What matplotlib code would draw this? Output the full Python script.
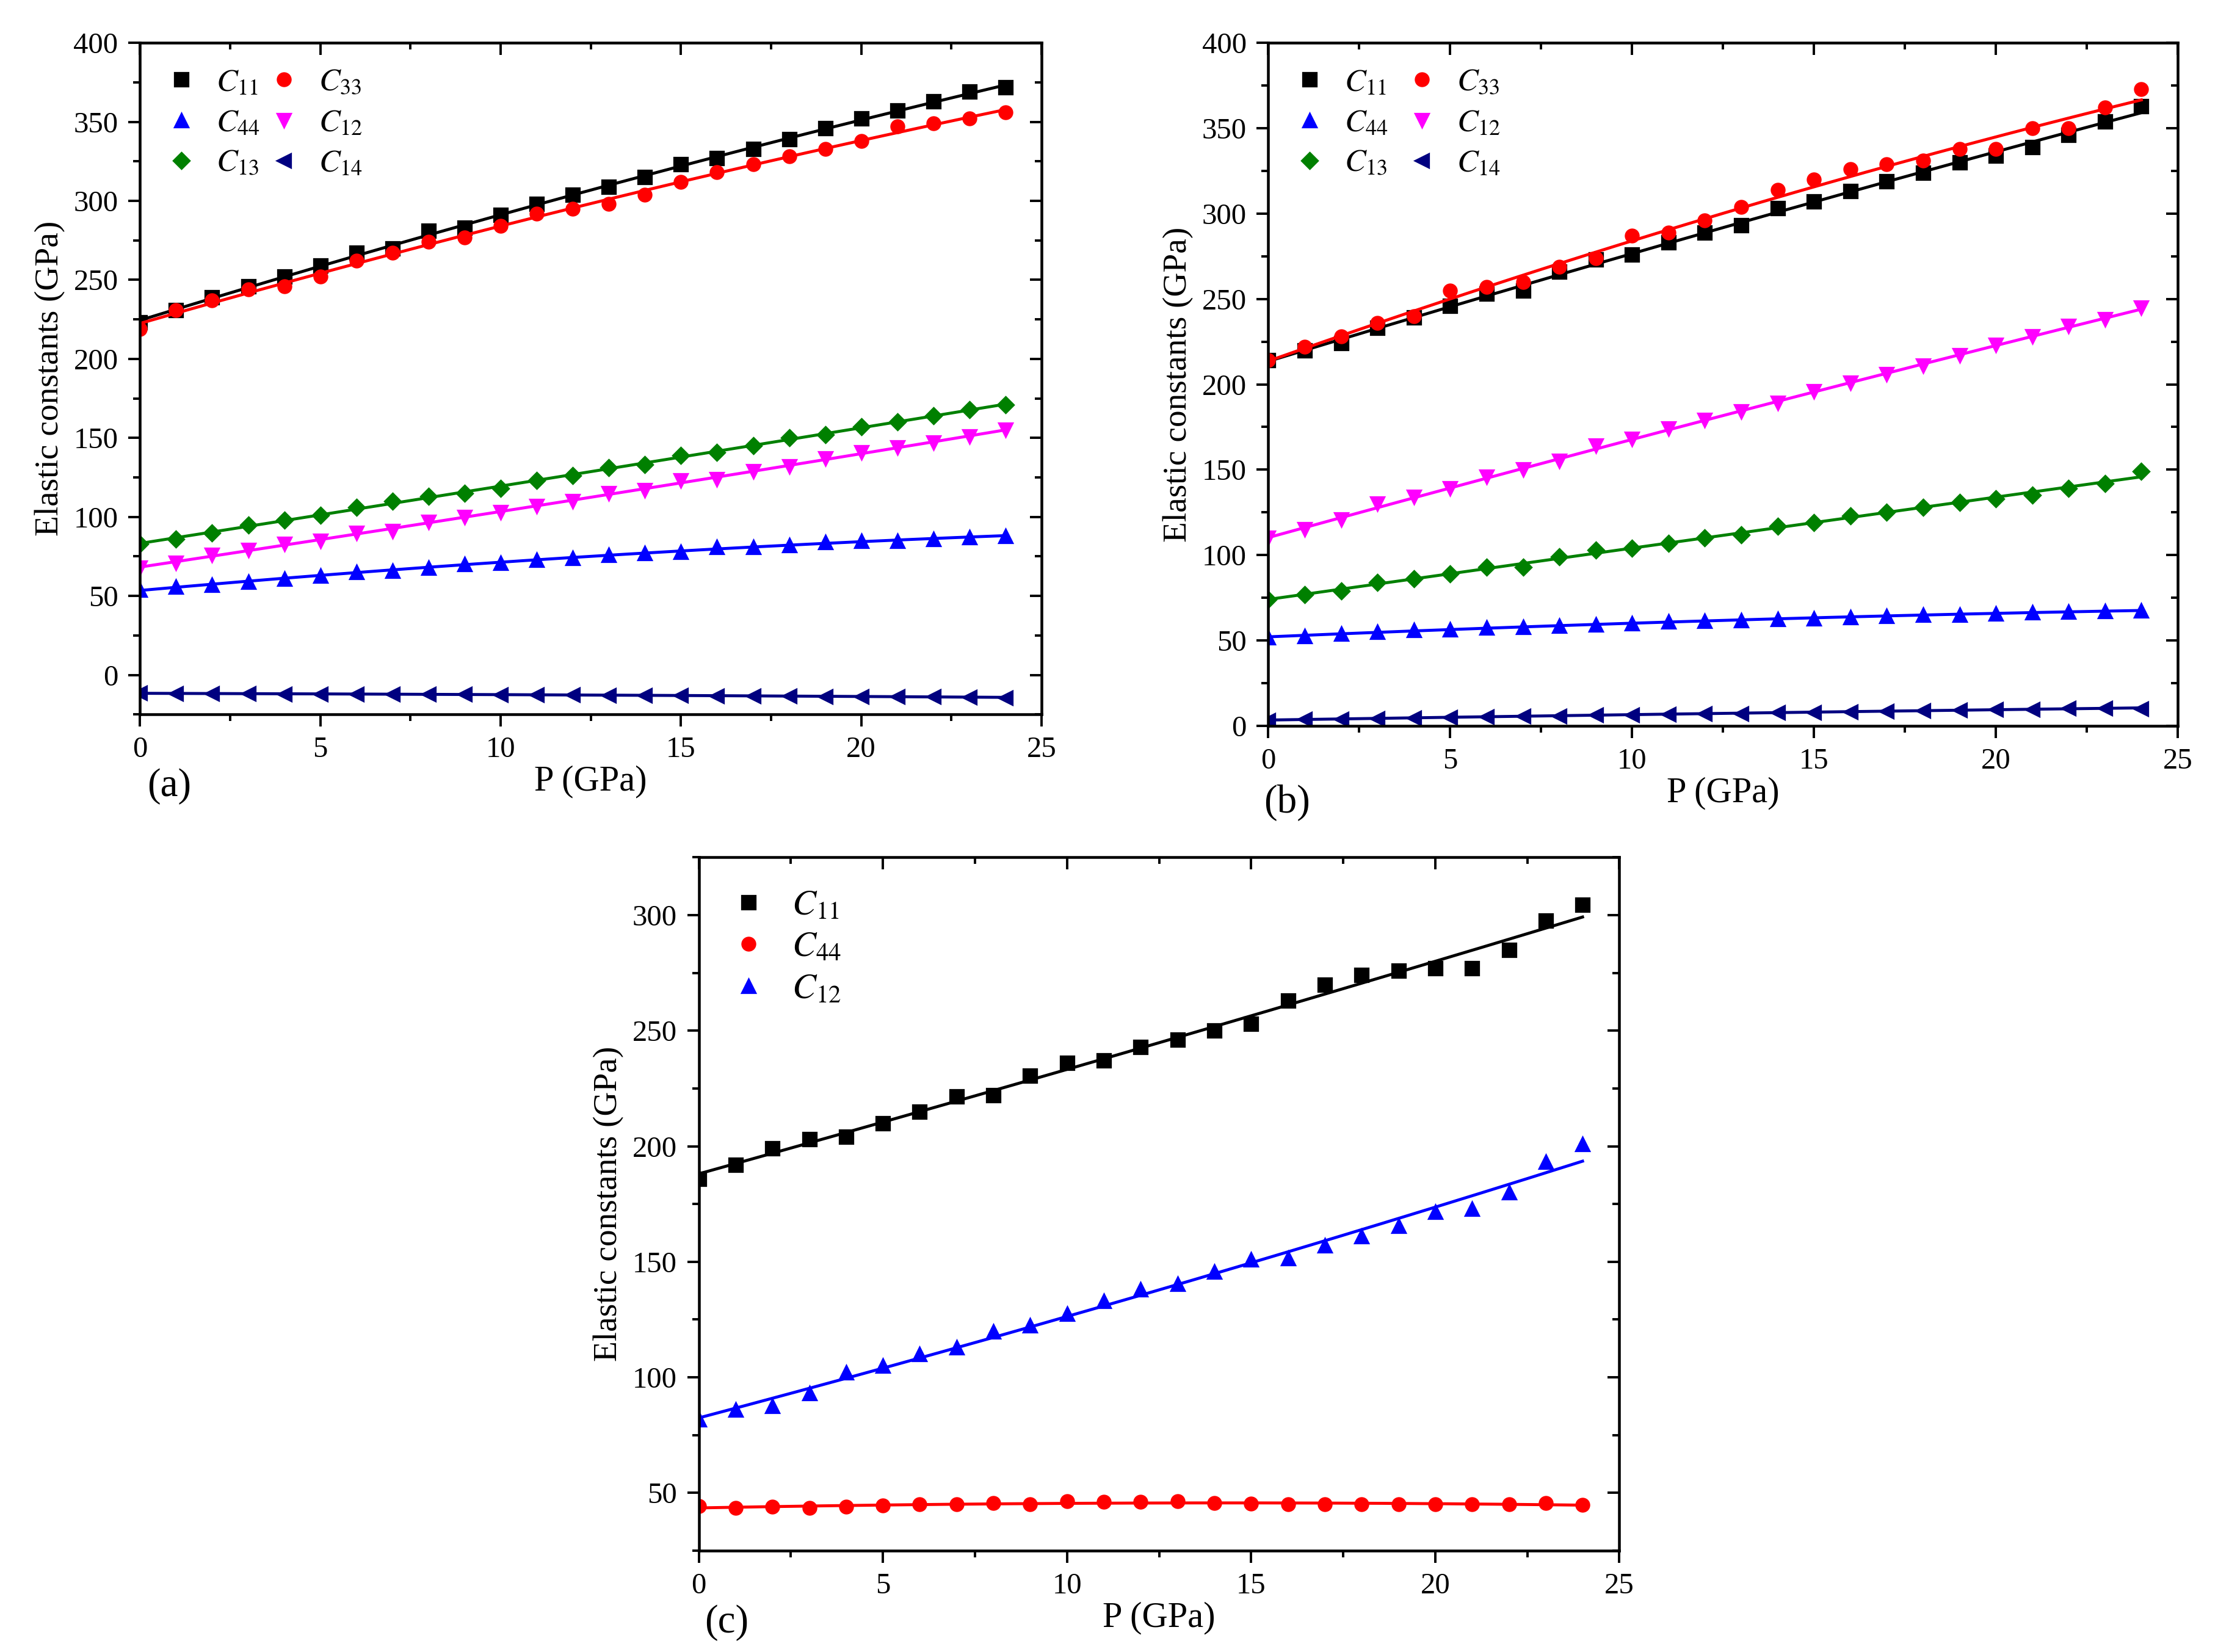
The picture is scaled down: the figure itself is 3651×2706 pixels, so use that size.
import numpy as np
import matplotlib
matplotlib.use("Agg")
import matplotlib.pyplot as plt
from matplotlib.ticker import MultipleLocator

plt.rcParams['font.family'] = ['Liberation Serif', 'DejaVu Serif']
plt.rcParams['mathtext.fontset'] = 'stix'

P = np.arange(0, 25)

# panel (a)
a_C11 = [223, 231, 239, 246, 252, 259, 267, 270, 281, 283, 291, 298, 304, 309, 315, 323,
         327, 333, 339, 346, 352, 357, 363, 369, 372]
a_C33 = [219, 231, 237, 244, 246, 252, 262, 267, 274, 277, 284, 292, 295, 298, 304, 312,
         318, 323, 328, 333, 338, 347, 349, 352, 356]
a_C44 = [54, 56, 57, 59, 61, 63, 65, 66, 68, 70, 71, 73, 74, 76, 77, 78, 81, 81, 82, 84,
         85, 85, 86, 87, 88]
a_C12 = [68, 71, 76, 79, 83, 85, 90, 91, 97, 100, 103, 107, 110, 115, 117, 123, 124, 129,
         132, 137, 141, 144, 147, 151, 155]
a_C13 = [83, 86, 90, 95, 98, 101, 106, 110, 113, 115, 118, 123, 126, 131, 133, 139, 141,
         145, 150, 152, 157, 160, 164, 168, 171]
a_C14 = [-11.5, -11.6, -11.7, -11.9, -12.0, -12.0, -12.1, -12.2, -12.3, -12.2, -12.4,
         -12.6, -12.6, -12.8, -12.8, -13.0, -13.1, -13.2, -13.3, -13.5, -13.6, -13.7,
         -13.8, -14.0, -14.3]

# panel (b)
b_C11 = [214, 220, 224, 233, 239, 246, 253, 255, 266, 273, 276, 283, 289, 293, 303, 307,
         313, 319, 324, 330, 334, 339, 346, 354, 363]
b_C33 = [214, 222, 228, 236, 240, 255, 257, 260, 269, 274, 287, 289, 296, 304, 314, 320,
         326, 329, 331, 338, 338, 350, 350, 362, 373]
b_C44 = [52, 52.5, 54, 55, 56, 56.5, 57.5, 58, 58.7, 59.3, 60, 61, 61.5, 62, 62.7, 63,
         63.6, 64.5, 65, 65.2, 65.8, 66.4, 67, 67.3, 67.6]
b_C12 = [110, 115, 121, 130, 134, 139, 146, 150, 155, 164, 168, 174, 179, 184, 189, 196,
         201, 206, 211, 217, 223, 228, 234, 238, 245]
b_C13 = [74, 77, 79, 84, 86, 89, 93, 93, 99, 103, 104, 107, 110, 112, 117, 119, 123, 125,
         128, 131, 133, 135, 139, 142, 149]
b_C14 = [3.4, 3.9, 4.0, 4.4, 4.8, 5.0, 5.4, 5.6, 5.9, 6.4, 6.5, 6.9, 7.2, 7.3, 7.8, 8.0,
         8.4, 8.6, 9.0, 9.3, 9.5, 9.8, 10.2, 10.5, 10.1]

# panel (c)
c_C11 = [186, 192, 199, 203, 204, 210, 215, 221.5, 222, 230.5, 236, 237, 243, 246, 250,
         253, 263, 270, 274, 276, 277, 277, 285, 297.7, 304.4]
c_C44 = [44.2, 43.5, 44, 43.5, 44, 44.4, 45.1, 45, 45.6, 45, 46.3, 46, 46, 46.3, 45.6,
         45.4, 45.1, 45.1, 45, 45, 45.1, 45, 45.1, 45.6, 44.7]
c_C12 = [81.7, 86, 87.5, 93, 102, 105, 110, 113, 119.7, 122.5, 127.5, 133, 138, 140.5,
         145.6, 151, 151.4, 157, 161, 165.5, 171.5, 173, 180, 193.3, 201]


def lab(n):
    return r'$\mathit{C}_{\mathit{%s}}$' % n


def style_axes(ax, ylim, ymajor, yminor):
    ax.set_xlim(0, 25)
    ax.set_ylim(*ylim)
    ax.xaxis.set_major_locator(MultipleLocator(5))
    ax.xaxis.set_minor_locator(MultipleLocator(2.5))
    ax.yaxis.set_major_locator(MultipleLocator(ymajor))
    ax.yaxis.set_minor_locator(MultipleLocator(yminor))
    ax.tick_params(which='both', direction='out', labelsize=15, width=1.2, pad=5)
    ax.tick_params(which='major', length=6)
    ax.tick_params(which='minor', length=3.5)
    for s in ax.spines.values():
        s.set_linewidth(1.4)
    top = ax.secondary_xaxis('top')
    top.xaxis.set_major_locator(MultipleLocator(5))
    top.xaxis.set_minor_locator(MultipleLocator(2.5))
    top.tick_params(which='both', direction='in', labeltop=False, width=1.2)
    top.tick_params(which='major', length=6)
    top.tick_params(which='minor', length=3.5)
    right = ax.secondary_yaxis('right')
    right.yaxis.set_major_locator(MultipleLocator(ymajor))
    right.yaxis.set_minor_locator(MultipleLocator(yminor))
    right.tick_params(which='both', direction='in', labelright=False, width=1.2)
    right.tick_params(which='major', length=6)
    right.tick_params(which='minor', length=3.5)
    ax.set_xlabel('P (GPa)', fontsize=18, labelpad=1)
    ax.set_ylabel('Elastic constants (GPa)', fontsize=17, labelpad=4)


def series(ax, y, color, marker, label, ms=6.5):
    y = np.array(y, dtype=float)
    ax.plot(P, y, linestyle='none', marker=marker, color=color, markersize=ms, label=label)
    coef = np.polyfit(P, y, 2)
    xf = np.linspace(0, 24, 200)
    ax.plot(xf, np.polyval(coef, xf), color=color, linewidth=1.5)


fig = plt.figure(figsize=(3651 / 234, 2706 / 234), dpi=234)

axa = fig.add_axes([0.0628, 0.5675, 0.4045, 0.4066])
series(axa, a_C11, 'black', 's', lab('11'))
series(axa, a_C44, '#0000FF', '^', lab('44'))
series(axa, a_C13, '#008000', 'D', lab('13'), ms=5.5)
series(axa, a_C33, '#FF0000', 'o', lab('33'))
series(axa, a_C12, '#FF00FF', 'v', lab('12'))
series(axa, a_C14, '#000080', '<', lab('14'))
style_axes(axa, (-25, 400), 50, 25)
axa.legend(loc='upper left', ncol=2, frameon=False, fontsize=16, handlelength=1.0,
           handletextpad=0.6, columnspacing=0.25, labelspacing=0.35, borderaxespad=0.4)
fig.text(0.066, 0.518, '(a)', fontsize=20)

axb = fig.add_axes([0.569, 0.5606, 0.408, 0.4135])
series(axb, b_C11, 'black', 's', lab('11'))
series(axb, b_C44, '#0000FF', '^', lab('44'))
series(axb, b_C13, '#008000', 'D', lab('13'), ms=5.5)
series(axb, b_C33, '#FF0000', 'o', lab('33'))
series(axb, b_C12, '#FF00FF', 'v', lab('12'))
series(axb, b_C14, '#000080', '<', lab('14'))
style_axes(axb, (0, 400), 50, 25)
axb.legend(loc='upper left', ncol=2, frameon=False, fontsize=16, handlelength=1.0,
           handletextpad=0.6, columnspacing=0.55, labelspacing=0.35, borderaxespad=0.4)
fig.text(0.567, 0.508, '(b)', fontsize=20)

axc = fig.add_axes([0.3135, 0.0614, 0.413, 0.4196])
series(axc, c_C11, 'black', 's', lab('11'))
series(axc, c_C44, '#FF0000', 'o', lab('44'))
series(axc, c_C12, '#0000FF', '^', lab('12'))
style_axes(axc, (25, 325), 50, 25)
axc.legend(loc='upper left', frameon=False, fontsize=18, handlelength=1.0,
           handletextpad=0.7, labelspacing=0.25, borderaxespad=0.5)
fig.text(0.316, 0.012, '(c)', fontsize=20)

fig.savefig('out.png', dpi=234)
